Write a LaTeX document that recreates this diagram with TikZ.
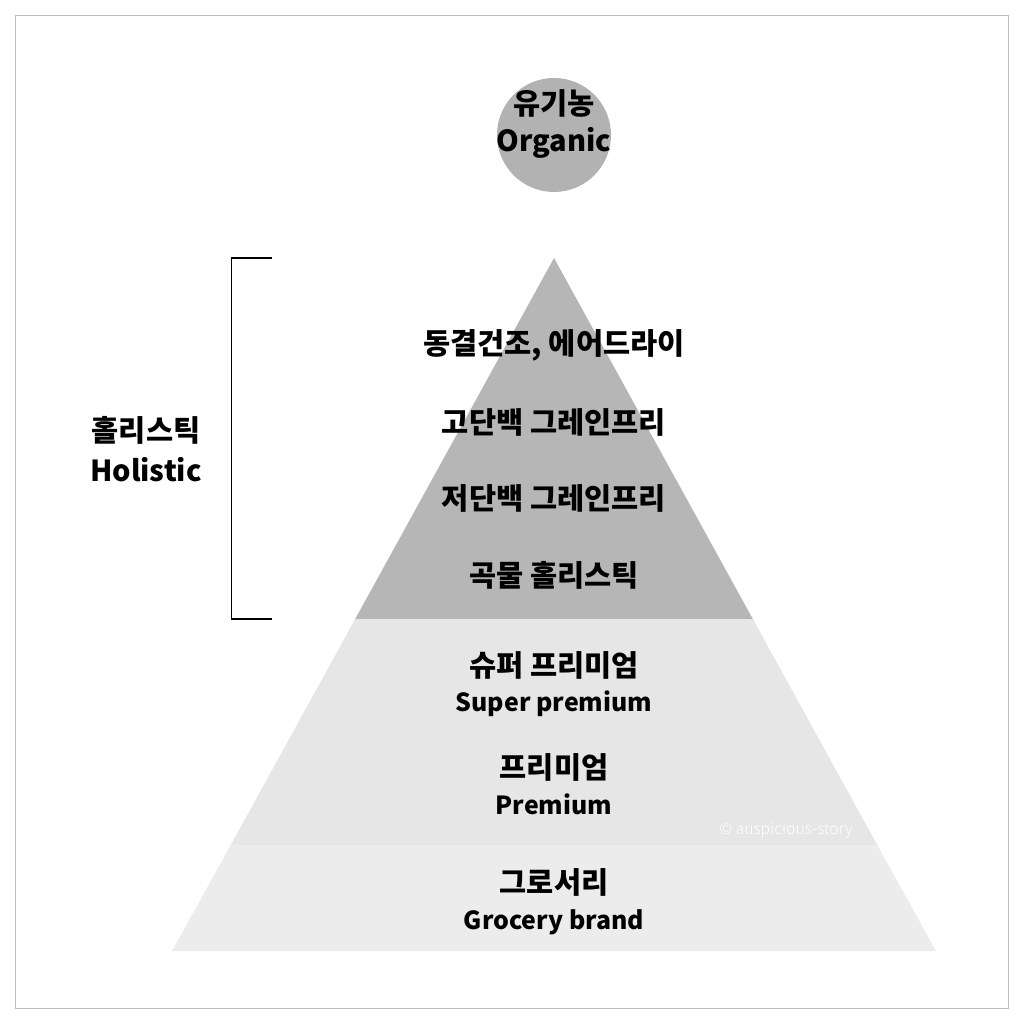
\documentclass[tikz,border=0pt]{standalone}
\usepackage{fontspec}
\setmainfont{Noto Sans CJK KR}
\newfontfamily\krlight{Noto Sans CJK KR Light}
\definecolor{circ}{HTML}{B2B2B2}
\definecolor{topband}{HTML}{B6B6B6}
\definecolor{midband}{HTML}{E6E6E6}
\definecolor{botband}{HTML}{ECECEC}
\definecolor{frame}{HTML}{BDBDBD}
\tikzset{
  big/.style={font=\fontsize{21}{24}\selectfont\bfseries, inner sep=0pt, text=black},
  bigeng/.style={font=\fontsize{20.6}{24}\selectfont\bfseries, inner sep=0pt, text=black},
  eng/.style={font=\fontsize{17.7}{21}\selectfont\bfseries, inner sep=0pt, text=black},
}
\begin{document}
\begin{tikzpicture}[x=0.025cm,y=-0.025cm]
\useasboundingbox (0,0) rectangle (1024,1024);
\fill[white] (0,0) rectangle (1024,1024);
\draw[frame, line width=0.6pt] (15,15) rectangle (1008,1008);
% pyramid
\fill[topband] (554,258) -- (752.8,619) -- (355.2,619) -- cycle;
\fill[midband] (355.2,619) -- (752.8,619) -- (877.2,845) -- (230.8,845) -- cycle;
\fill[botband] (230.8,845) -- (877.2,845) -- (936,951) -- (172,951) -- cycle;
% circle
\fill[circ] (554,135) circle (57);
\node[big] (org1) at (554,103) {유기농};
\node[bigeng] (org2) at (554,142.5) {Organic};
% bracket
\coordinate (bt) at (272,258);
\coordinate (bb) at (272,619);
\draw[black, line width=0.9pt] (bt) -- (231.5,258) -- (231.5,619) -- (bb);
\node[big] (hol1) at (146,430) {홀리스틱};
\node[bigeng] (hol2) at (146,469.5) {Holistic};
% top band labels
\node[big] (t1) at (554,345) {동결건조, 에어드라이};
\node[big] (t2) at (554,422) {고단백 그레인프리};
\node[big] (t3) at (554,498) {저단백 그레인프리};
\node[big] (t4) at (554,575) {곡물 홀리스틱};
% middle
\node[big] (m1) at (554,665) {슈퍼 프리미엄};
\node[eng] (m2) at (554,704) {Super premium};
\node[big] (m3) at (554,767) {프리미엄};
\node[eng] (m4) at (554,804) {Premium};
% bottom
\node[big] (b1) at (554,882) {그로서리};
\node[eng] (b2) at (554,922) {Grocery brand};
% watermark
\node[font=\krlight\fontsize{11.2}{13}\selectfont, text=white, inner sep=0pt] (wm) at (786,830) {© auspicious-story};
\end{tikzpicture}
\end{document}
